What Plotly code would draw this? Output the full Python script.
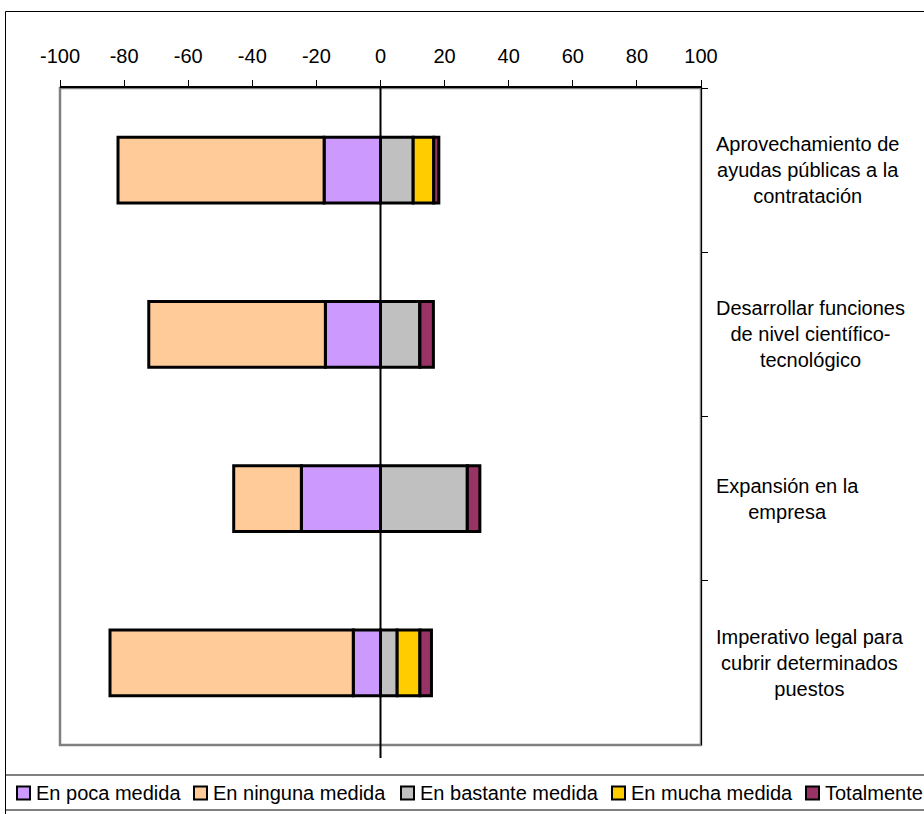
import plotly.graph_objects as go

# Categories (top to bottom) and their wrapped labels
categories = [
    "Aprovechamiento de ayudas públicas a la contratación",
    "Desarrollar funciones de nivel científico-tecnológico",
    "Expansión en la empresa",
    "Imperativo legal para cubrir determinados puestos",
]
category_labels = [
    "Aprovechamiento de<br>ayudas públicas a la<br>contratación",
    "Desarrollar funciones<br>de nivel científico-<br>tecnológico",
    "Expansión en la<br>empresa",
    "Imperativo legal para<br>cubrir determinados<br>puestos",
]

# Percentages per answer; disagreement drawn to the left of zero
series_names = ["En poca medida", "En ninguna medida", "En bastante medida",
                "En mucha medida", "Totalmente"]
en_poca_medida = [17.6, 17.2, 24.7, 8.5]
en_ninguna_medida = [64.3, 55.1, 21.1, 75.9]
en_bastante_medida = [10.2, 12.3, 27.1, 5.2]
en_mucha_medida = [6.4, 0.0, 0.0, 7.1]
totalmente = [1.6, 4.2, 3.9, 3.6]

series_values = [
    [-v for v in en_poca_medida],
    [-v for v in en_ninguna_medida],
    en_bastante_medida,
    en_mucha_medida,
    totalmente,
]
series_colors = ["#CC99FF", "#FFCC99", "#C0C0C0", "#FFCC00", "#993366"]

x_ticks = [-100, -80, -60, -40, -20, 0, 20, 40, 60, 80, 100]

FONT = "Liberation Sans, Arial, sans-serif"
W, H = 924, 814
ML, MR, MT, MB = 60, 223, 88, 69
PW, PH = W - ML - MR, H - MT - MB


def px(x):
    return (x - ML) / PW


def py(y):
    return (H - MB - y) / PH


fig = go.Figure()
for name, vals, color in zip(series_names, series_values, series_colors):
    fig.add_trace(go.Bar(
        y=categories, x=vals, name=name, orientation="h", width=0.4,
        marker=dict(color=color, line=dict(color="black", width=3)),
    ))

shapes = [
    # plot-area frame
    dict(type="rect", xref="paper", yref="paper", x0=0, x1=1, y0=0, y1=1,
         line=dict(color="#808080", width=2.5), layer="below"),
    # zero line
    dict(type="line", xref="x", yref="paper", x0=0, x1=0, y0=1, y1=py(758),
         line=dict(color="black", width=2)),
    # outer chart border
    dict(type="rect", xref="paper", yref="paper", x0=px(5.5), x1=px(940),
         y0=py(830), y1=py(11.5), line=dict(color="black", width=1)),
    # legend box
    dict(type="line", xref="paper", yref="paper", x0=px(6), x1=px(930),
         y0=py(775), y1=py(775), line=dict(color="#808080", width=2)),
    dict(type="line", xref="paper", yref="paper", x0=px(6), x1=px(930),
         y0=py(810), y1=py(810), line=dict(color="#808080", width=2)),
]

annotations = []
for cat, lab in zip(categories, category_labels):
    annotations.append(dict(
        x=px(714), xref="paper", y=cat, yref="y", text=lab, showarrow=False,
        xanchor="left", yanchor="middle", align="center",
        font=dict(family=FONT, size=20, color="black"),
    ))

# legend entries: colour key + label
legend_x = [17, 194, 401, 612, 806]
for name, color, lx in zip(series_names, series_colors, legend_x):
    shapes.append(dict(type="rect", xref="paper", yref="paper",
                       x0=px(lx), x1=px(lx + 13), y0=py(799.5), y1=py(786.5),
                       fillcolor=color, line=dict(color="black", width=2)))
    annotations.append(dict(
        x=px(lx + 17), xref="paper", y=py(793), yref="paper", text=name,
        showarrow=False, xanchor="left", yanchor="middle",
        font=dict(family=FONT, size=20, color="black"),
    ))

fig.update_layout(
    width=W, height=H,
    margin=dict(l=ML, r=MR, t=MT, b=MB),
    paper_bgcolor="white", plot_bgcolor="white",
    barmode="relative", showlegend=False,
    font=dict(family=FONT, size=20, color="black"),
    shapes=shapes, annotations=annotations,
    xaxis=dict(
        side="top", range=[-100, 100], tickvals=x_ticks,
        ticktext=[str(v) for v in x_ticks],
        showgrid=False, zeroline=False, showline=True, linecolor="black",
        linewidth=1.5, ticks="outside", ticklen=6, tickcolor="black",
        tickwidth=1, ticklabelstandoff=9,
        tickfont=dict(family=FONT, size=20, color="black"),
    ),
    yaxis=dict(
        side="right", categoryorder="array", categoryarray=categories,
        autorange="reversed", showgrid=False, zeroline=False,
        showline=True, linecolor="black", linewidth=1, ticks="outside",
        ticklen=6, tickcolor="black", tickson="boundaries",
        showticklabels=False,
    ),
)

fig.write_html("out.html")
